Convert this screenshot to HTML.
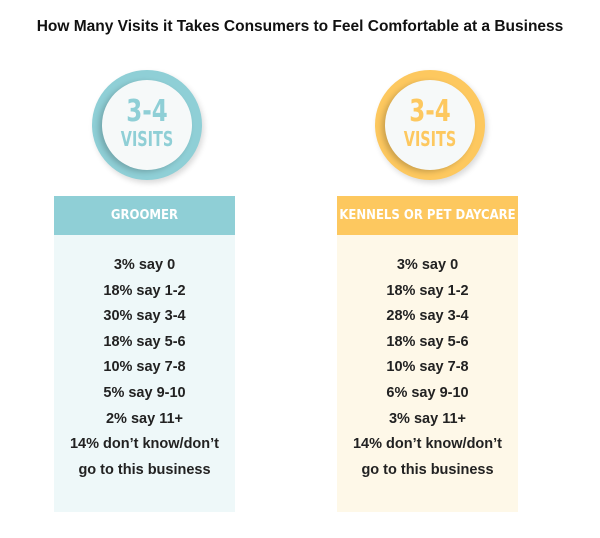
<!DOCTYPE html>
<html><head><meta charset="utf-8"><style>
body{margin:0;width:600px;height:538px;background:#fff;font-family:"Liberation Sans",sans-serif;position:relative;overflow:hidden}
.title{position:absolute;top:18px;left:0;width:600px;text-align:center;font-weight:bold;font-size:15.5px;color:#111}
.circle{position:absolute;width:110px;height:110px;border-radius:50%;box-shadow:2px 3px 6px rgba(0,0,0,.15)}
.inner{position:absolute;left:10px;top:10px;width:90px;height:90px;border-radius:50%;background:#f6f9f9;box-shadow:-3px 2px 6px rgba(0,0,0,.2);text-align:center;font-family:"DejaVu Sans Condensed","Liberation Sans Narrow",sans-serif;font-weight:bold}
.big{font-size:30px;line-height:30px;margin-top:17px;transform:scaleX(.85)}
.small{font-size:20px;line-height:24px;transform:scaleX(.8)}
.panel{position:absolute;top:196px;width:181px;height:316px}
.head{height:39px;line-height:39px;color:#fff;font-weight:bold;font-size:13px;text-align:center;font-family:"DejaVu Sans Condensed",sans-serif}
.body{padding-top:18px;text-align:center;font-weight:bold;font-size:14.5px;color:#222;line-height:25.6px}
</style></head><body>
<div class="title">How Many Visits it Takes Consumers to Feel Comfortable at a Business</div>
<div class="circle" style="left:92px;top:70px;background:#8fcfd6"><div class="inner" style="color:#8fcfd6"><div class="big">3-4</div><div class="small">VISITS</div></div></div>
<div class="circle" style="left:375px;top:70px;background:#fdc85f"><div class="inner" style="color:#fdc85f"><div class="big">3-4</div><div class="small">VISITS</div></div></div>
<div class="panel" style="left:54px;background:#eef8f9">
<div class="head" style="background:#8fcfd6">GROOMER</div>
<div class="body">3% say 0<br>18% say 1-2<br>30% say 3-4<br>18% say 5-6<br>10% say 7-8<br>5% say 9-10<br>2% say 11+<br>14% don’t know/don’t<br>go to this business</div></div>
<div class="panel" style="left:337px;background:#fef8e8">
<div class="head" style="background:#fdc85f">KENNELS OR PET DAYCARE</div>
<div class="body">3% say 0<br>18% say 1-2<br>28% say 3-4<br>18% say 5-6<br>10% say 7-8<br>6% say 9-10<br>3% say 11+<br>14% don’t know/don’t<br>go to this business</div></div>
</body></html>
